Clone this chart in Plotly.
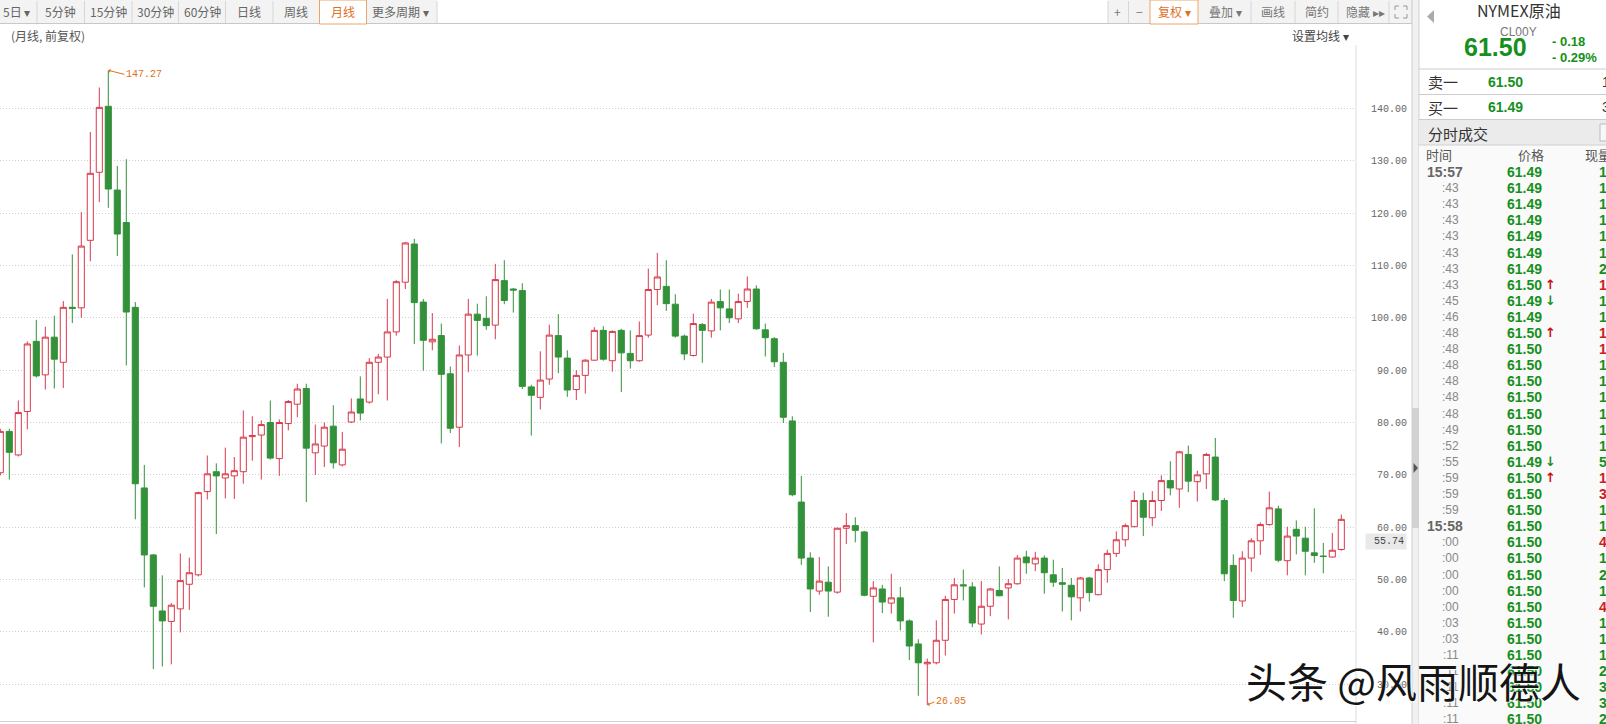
import plotly.graph_objects as go

# ---------------- data (monthly candles, CL00Y) ----------------
opens = [70.4, 78.3, 73.8, 82.1, 95.5, 89.1, 96.3, 91.5, 102.0, 101.9,
         114.8, 127.8, 140.4, 124.4, 118.2, 102.0, 67.5, 54.7, 44.0, 42.0,
         44.4, 49.1, 50.9, 66.8, 70.6, 69.4, 69.8, 70.6, 77.3, 77.6,
         80.0, 73.1, 79.8, 83.5, 86.5, 74.2, 75.5, 79.3, 71.9, 80.1,
         84.5, 83.9, 91.5, 92.5, 97.3, 106.8, 114.1, 103.0, 95.4, 96.6,
         89.3, 79.1, 92.9, 100.7, 99.9, 98.6, 107.1, 105.5, 105.2, 86.8,
         84.8, 88.3, 96.6, 92.3, 86.3, 89.0, 91.9, 97.6, 91.8, 97.6,
         93.2, 91.8, 96.7, 105.4, 106.0, 102.6, 96.5, 92.8, 98.7, 97.5,
         103.1, 101.7, 99.8, 103.1, 105.5, 97.7, 96.0, 91.5, 80.3, 64.8,
         54.1, 47.8, 49.5, 47.6, 59.8, 60.3, 59.1, 46.8, 48.2, 45.5,
         46.5, 42.1, 37.7, 33.9, 34.1, 38.4, 46.2, 49.0, 48.6, 41.5,
         44.9, 47.9, 48.4, 49.2, 54.3, 53.0, 54.1, 50.9, 49.4, 48.9,
         46.5, 50.3, 47.1, 51.9, 55.0, 57.6, 60.1, 65.1, 61.8, 65.1,
         68.9, 67.3, 73.9, 68.7, 70.2, 73.4, 65.1, 52.7, 45.9, 54.1,
         57.4, 60.5, 63.5, 53.6, 59.6, 57.9, 55.1, 54.5, 54.3, 55.74]
highs = [78.8, 78.8, 84.2, 95.5, 99.6, 98.3, 100.4, 103.2, 112.1, 120.2,
         135.5, 144.0, 147.27, 129.0, 130.3, 103.0, 71.9, 54.9, 50.8, 45.5,
         55.0, 54.2, 66.8, 73.7, 72.2, 75.2, 73.4, 82.3, 81.2, 80.4,
         84.2, 80.6, 84.3, 87.4, 87.4, 79.6, 80.0, 83.3, 78.2, 84.6,
         88.8, 92.3, 93.1, 103.6, 107.2, 114.5, 115.1, 103.6, 100.9, 98.9,
         90.7, 94.7, 103.6, 102.7, 104.1, 110.3, 111.0, 105.7, 106.6, 87.2,
         93.6, 98.7, 100.7, 93.8, 90.0, 92.1, 98.2, 98.4, 97.6, 97.9,
         97.6, 99.3, 109.4, 112.4, 111.0, 104.5, 96.8, 100.8, 99.0, 103.6,
         105.4, 105.4, 104.6, 107.9, 106.2, 98.9, 96.3, 93.3, 81.2, 69.8,
         55.2, 54.3, 52.5, 59.9, 62.7, 61.9, 59.3, 49.7, 49.0, 51.1,
         48.6, 42.4, 38.6, 34.9, 42.2, 46.9, 50.3, 51.9, 49.5, 49.7,
         48.4, 52.5, 50.1, 54.7, 55.5, 55.3, 54.6, 53.8, 52.2, 50.3,
         50.5, 50.5, 52.9, 55.7, 59.2, 60.7, 66.9, 66.6, 66.9, 69.9,
         72.6, 74.6, 75.6, 70.8, 74.2, 77.05, 65.6, 54.8, 55.4, 57.9,
         60.9, 66.8, 64.1, 60.1, 61.3, 60.1, 63.6, 57.0, 58.9, 62.4]
lows = [69.9, 69.1, 73.5, 78.7, 88.6, 86.3, 86.5, 86.6, 99.0, 100.0,
        110.8, 122.1, 121.0, 111.8, 90.9, 61.5, 48.5, 32.9, 33.4, 33.8,
        39.9, 44.2, 50.6, 65.3, 58.7, 65.5, 65.4, 68.3, 72.7, 69.1,
        72.9, 69.8, 78.5, 81.0, 64.8, 70.0, 71.5, 71.2, 71.6, 79.9,
        80.4, 83.6, 85.4, 84.2, 96.6, 105.5, 95.0, 89.9, 93.8, 76.0,
        78.0, 75.3, 89.6, 92.8, 97.7, 95.9, 102.6, 101.0, 86.4, 77.5,
        82.5, 87.2, 89.4, 84.9, 84.3, 85.5, 91.8, 91.8, 89.7, 85.8,
        90.3, 91.6, 96.2, 102.4, 101.3, 96.2, 91.9, 92.6, 91.4, 96.2,
        97.6, 99.0, 99.0, 101.9, 97.7, 92.6, 90.6, 79.9, 65.9, 52.8,
        43.8, 47.1, 42.9, 47.3, 56.8, 57.1, 46.8, 38.0, 43.6, 43.5,
        40.3, 34.6, 27.8, 26.05, 33.8, 35.5, 43.5, 46.0, 40.9, 39.5,
        43.0, 46.8, 42.4, 49.0, 51.1, 51.6, 47.3, 48.6, 43.9, 42.2,
        43.9, 45.8, 47.0, 49.4, 54.3, 56.3, 60.0, 58.3, 60.2, 63.1,
        66.1, 63.7, 66.7, 64.9, 67.3, 65.0, 49.7, 42.7, 44.8, 51.5,
        54.7, 60.3, 53.3, 50.8, 54.8, 50.8, 53.2, 51.2, 54.2, 55.5]
closes = [78.3, 74.3, 81.9, 95.0, 88.9, 96.3, 92.1, 102.0, 101.8, 113.7,
          127.6, 140.2, 124.6, 116.0, 101.1, 68.3, 54.7, 44.9, 42.1, 45.1,
          49.8, 51.3, 66.6, 70.2, 69.8, 70.2, 70.8, 77.2, 77.5, 79.6,
          73.2, 80.0, 84.0, 86.4, 75.1, 75.9, 79.1, 72.3, 74.9, 82.0,
          81.8, 91.5, 92.5, 97.3, 106.9, 114.3, 102.9, 95.7, 95.9, 89.2,
          78.9, 92.9, 100.7, 99.5, 98.5, 107.3, 103.3, 105.3, 86.9, 85.2,
          88.1, 96.7, 92.5, 86.2, 89.0, 91.9, 97.6, 92.1, 97.4, 93.3,
          91.8, 96.6, 105.4, 107.8, 102.7, 96.5, 93.1, 98.9, 97.6, 103.0,
          101.9, 100.0, 103.1, 105.5, 97.9, 96.2, 91.6, 81.0, 66.2, 54.1,
          48.2, 49.7, 47.8, 59.8, 60.3, 59.4, 47.0, 48.4, 45.7, 46.5,
          42.1, 37.3, 34.1, 34.2, 38.4, 46.2, 49.0, 48.8, 41.7, 44.9,
          48.2, 46.9, 49.2, 54.1, 53.2, 54.1, 51.3, 49.5, 49.1, 46.7,
          50.3, 47.5, 51.9, 55.0, 57.6, 60.3, 65.1, 61.9, 65.1, 68.9,
          67.5, 74.4, 68.8, 70.0, 73.9, 65.2, 51.1, 46.0, 54.1, 57.4,
          60.5, 63.7, 53.7, 58.3, 58.3, 55.4, 54.6, 54.4, 55.6, 61.5]

y_ticks = [30, 40, 50, 60, 70, 80, 90, 100, 110, 120, 130, 140]
y_tick_text = ["\u00a030.00", "\u00a040.00", "\u00a050.00", "\u00a060.00", "\u00a070.00",
               "\u00a080.00", "\u00a090.00", "100.00", "110.00", "120.00", "130.00", "140.00"]

peak_index, peak_value = 12, 147.27
low_index, low_value = 103, 26.05
marker_value = 55.74

tab_labels = ["5日 ▾", "5分钟", "15分钟", "30分钟", "60分钟", "日线", "周线", "月线", "更多周期 ▾"]
tool_labels = ["+", "−", "复权 ▾", "叠加 ▾", "画线", "简约", "隐藏 ▸▸"]

quote_name = "NYMEX原油"
quote_code = "CL00Y"
quote_last = "61.50"
quote_chg = "- 0.18"
quote_pct = "- 0.29%"
ask_price, ask_vol = "61.50", "1"
bid_price, bid_vol = "61.49", "3"

row_times = ["15:57", ":43", ":43", ":43", ":43", ":43", ":43", ":43", ":45", ":46",
             ":48", ":48", ":48", ":48", ":48", ":48", ":49", ":52", ":55", ":59",
             ":59", ":59", "15:58", ":00", ":00", ":00", ":00", ":00", ":03", ":03",
             ":11", ":11", ":11", ":11", ":11"]
row_prices = ["61.49", "61.49", "61.49", "61.49", "61.49", "61.49", "61.49", "61.50", "61.49", "61.49",
              "61.50", "61.50", "61.50", "61.50", "61.50", "61.50", "61.50", "61.50", "61.49", "61.50",
              "61.50", "61.50", "61.50", "61.50", "61.50", "61.50", "61.50", "61.50", "61.50", "61.50",
              "61.50", "61.50", "61.50", "61.50", "61.50"]
row_marks = ["", "", "", "", "", "", "", "↑", "↓", "",
             "↑", "", "", "", "", "", "", "", "↓", "↑",
             "", "", "", "", "", "", "", "", "", "",
             "", "", "", "", ""]
row_vols = ["1", "1", "1", "1", "1", "1", "2", "1", "1", "1",
            "1", "1", "1", "1", "1", "1", "1", "1", "5", "1",
            "3", "1", "1", "4", "1", "2", "1", "4", "1", "1",
            "1", "2", "3", "3", "2"]
row_vol_red = [0, 0, 0, 0, 0, 0, 0, 1, 0, 0,
               1, 1, 0, 0, 0, 0, 0, 0, 0, 1,
               1, 0, 0, 1, 0, 0, 0, 1, 0, 0,
               0, 0, 0, 0, 0]

# ---------------- layout helpers ----------------
W, H = 1606, 724
L, R, T, B = 0, 1356, 60, 722
STEP = 9.0
X0 = 0.3
PX_PER_UNIT = 5.235
Y80 = 422.5


def px(x):
    return (x - L) / (R - L)


def py(y):
    return (B - y) / (B - T)


RED = "#d8394a"
GREEN = "#33913a"
QGREEN = "#16901c"
ORANGE = "#e0701c"
CJK = "Noto Sans CJK SC"
NUM = "Liberation Sans"
MONO = "Liberation Mono"

xs = list(range(len(opens)))

fig = go.Figure()
fig.add_trace(go.Candlestick(
    x=xs, open=opens, high=highs, low=lows, close=closes,
    increasing=dict(line=dict(color=RED, width=1), fillcolor="white"),
    decreasing=dict(line=dict(color=GREEN, width=1), fillcolor=GREEN),
    whiskerwidth=0, hoverinfo="skip", showlegend=False))

y_top = 80 + (Y80 - T) / PX_PER_UNIT
y_bot = 80 - (B - Y80) / PX_PER_UNIT

shapes = []
ann = []


def rect(x0, y0, x1, y1, fill=None, line=None, lw=1):
    shapes.append(dict(type="rect", xref="paper", yref="paper",
                       x0=px(x0), x1=px(x1), y0=py(y1), y1=py(y0),
                       fillcolor=fill if fill else "rgba(0,0,0,0)",
                       line=dict(color=line if line else "rgba(0,0,0,0)", width=lw if line else 0),
                       layer="above"))


def hline(x0, x1, y, color="#cccccc", w=1):
    shapes.append(dict(type="line", xref="paper", yref="paper",
                       x0=px(x0), x1=px(x1), y0=py(y), y1=py(y),
                       line=dict(color=color, width=w), layer="above"))


def vline(x, y0, y1, color="#cccccc", w=1):
    shapes.append(dict(type="line", xref="paper", yref="paper",
                       x0=px(x), x1=px(x), y0=py(y0), y1=py(y1),
                       line=dict(color=color, width=w), layer="above"))


def path(d_pts, fill):
    d = "M " + " L ".join(f"{px(a)},{py(b)}" for a, b in d_pts) + " Z"
    shapes.append(dict(type="path", xref="paper", yref="paper", path=d,
                       fillcolor=fill, line=dict(width=0), layer="above"))


def txt(x, y, s, size=12, color="#333", anchor="left", family=CJK, bold=False, **kw):
    if bold:
        s = "<b>" + s + "</b>"
    ann.append(dict(x=px(x), y=py(y), xref="paper", yref="paper", text=s,
                    showarrow=False, xanchor=anchor, yanchor="middle",
                    font=dict(size=size, color=color, family=family), **kw))


# ---------------- top toolbar ----------------
rect(0, 0, 437, 23, fill="#f3f3f3")
for sx in [37, 84.5, 132, 178.5, 225.5, 273, 437]:
    vline(sx, 1, 23, color="#d6d6d6")
hline(0, 1412, 23.5, color="#c8c8c8")
rect(319.5, 0, 366.5, 24, fill="white", line="#eda46a")
tab_pos = [(1, "left"), (60.5, "center"), (108, "center"), (155, "center"), (202, "center"),
           (249, "center"), (296, "center"), (343, "center"), (401, "center")]
for (tx, anc), lab in zip(tab_pos, tab_labels):
    col = ORANGE if lab == "月线" else "#666"
    txt(tx, 12, lab, size=12, color=col, anchor=anc)

rect(1108, 0, 1412, 23, fill="#f3f3f3")
for sx in [1108, 1128.5, 1251, 1295, 1338, 1389, 1412]:
    vline(sx, 1, 23, color="#d6d6d6")
rect(1150, 0, 1198, 24, fill="white", line="#eda46a")
tool_pos = [1117, 1139, 1174, 1225, 1273, 1317, 1365]
for tx, lab in zip(tool_pos, tool_labels):
    col = ORANGE if lab.startswith("复权") else "#777"
    txt(tx, 12, lab, size=12, color=col, anchor="center")
# expand icon (four corners)
for (cx, cy, dx, dy) in [(1395, 6, 1, 1), (1407, 6, -1, 1), (1395, 18, 1, -1), (1407, 18, -1, -1)]:
    shapes.append(dict(type="line", xref="paper", yref="paper", x0=px(cx), y0=py(cy),
                       x1=px(cx + 4 * dx), y1=py(cy), line=dict(color="#999", width=1), layer="above"))
    shapes.append(dict(type="line", xref="paper", yref="paper", x0=px(cx), y0=py(cy),
                       x1=px(cx), y1=py(cy + 4 * dy), line=dict(color="#999", width=1), layer="above"))

txt(9, 35.5, "(月线, 前复权)", size=12, color="#555")
txt(1290, 35.5, "设置均线 ▾", size=12, color="#444")

# chart frame lines
vline(1356, 45, 724, color="#dddddd")
hline(0, 1356, 721.5, color="#d0d0d0")

# ---------------- chart annotations ----------------
ann.append(dict(x=peak_index, y=peak_value, xref="x", yref="y", text=f"{peak_value:.2f}",
                showarrow=True, arrowhead=1, arrowsize=0.7, arrowwidth=1, arrowcolor=ORANGE,
                ax=16, ay=4, xanchor="left", yanchor="middle",
                font=dict(family=MONO, size=10, color=ORANGE)))
ann.append(dict(x=low_index, y=low_value, xref="x", yref="y", text=f"{low_value:.2f}",
                showarrow=True, arrowhead=1, arrowsize=0.7, arrowwidth=1, arrowcolor=ORANGE,
                ax=7, ay=-3, xanchor="left", yanchor="middle",
                font=dict(family=MONO, size=10, color=ORANGE)))
ann.append(dict(x=px(1407), y=marker_value, xref="paper", yref="y",
                text="\u00a0" + f"{marker_value:.2f}", showarrow=False,
                xanchor="right", yanchor="bottom", bgcolor="#e9e9e9", borderpad=2,
                font=dict(family=MONO, size=10, color="#444")))

# ---------------- right quote panel ----------------
rect(1412, 0, 1419, 724, fill="#f1f1f1")
vline(1412, 0, 724, color="#cfcfcf")
vline(1419, 0, 724, color="#cfcfcf")
rect(1412, 408, 1419, 528, fill="#d2d2d2")
path([(1413.5, 463), (1418, 468), (1413.5, 473)], "#555")
path([(1434, 10), (1427, 16.5), (1434, 23)], "#aaaaaa")

rect(1419, 145, 1606, 724, fill="#fafafa")
txt(1519, 10, quote_name, size=16, color="#333", anchor="center")
txt(1518, 32, quote_code, size=12, color="#777", anchor="center", family=NUM)
txt(1495, 47, quote_last, size=25, color=QGREEN, anchor="center", family=NUM, bold=True)
txt(1550, 42, quote_chg, size=13, color=QGREEN, family=NUM, bold=True)
txt(1550, 57, quote_pct, size=13, color=QGREEN, family=NUM, bold=True)
hline(1419, 1606, 69)
txt(1426, 82, "卖一", size=15, color="#333")
txt(1486, 82, ask_price, size=14, color=QGREEN, family=NUM, bold=True)
txt(1600, 82, ask_vol, size=14, color="#333", family=NUM)
hline(1419, 1606, 94.5)
txt(1426, 107, "买一", size=15, color="#333")
txt(1486, 107, bid_price, size=14, color=QGREEN, family=NUM, bold=True)
txt(1600, 107, bid_vol, size=14, color="#333", family=NUM)
hline(1419, 1606, 119.5)
rect(1419, 120, 1606, 145, fill="#ebebeb")
txt(1426, 133, "分时成交", size=15, color="#333")
rect(1600, 124, 1612, 141, fill="#f7f7f7", line="#bbbbbb")
hline(1419, 1606, 145, color="#d0d0d0")
txt(1424, 154, "时间", size=13, color="#555")
txt(1531, 154, "价格", size=13, color="#555", anchor="center")
txt(1583, 154, "现量", size=13, color="#555")

for k, (t, p, m, v, vr) in enumerate(zip(row_times, row_prices, row_marks, row_vols, row_vol_red)):
    ry = 172 + 16.1 * k
    if len(t) > 3:
        txt(1425, ry, t, size=14, color="#666", family=NUM, bold=True)
    else:
        txt(1461, ry, t, size=12, color="#888", family=NUM, anchor="right")
    txt(1544, ry, p, size=14, color=QGREEN, family=NUM, bold=True, anchor="right")
    if m:
        txt(1543, ry, m, size=13, color=("#cc1010" if m == "↑" else QGREEN),
            family="DejaVu Sans", bold=True)
    txt(1597, ry, v, size=14, color=("#cc2020" if vr else QGREEN), family=NUM, bold=True)

# watermark
ann.append(dict(x=px(1583), y=py(680), xref="paper", yref="paper", text="头条 @风雨顺德人",
                showarrow=False, xanchor="right", yanchor="middle",
                font=dict(family=CJK, size=41, color="#151515", shadow="1px 1px 1px #ffffff")))

fig.update_layout(
    width=W, height=H,
    margin=dict(l=L, r=W - R, t=T, b=H - B, pad=0, autoexpand=False),
    paper_bgcolor="white", plot_bgcolor="white",
    boxgap=0.25, boxgroupgap=0.1,
    showlegend=False,
    xaxis=dict(range=[-X0 / STEP, (R - X0) / STEP], showgrid=False, zeroline=False,
               showticklabels=False, ticks="", showline=False,
               rangeslider=dict(visible=False), fixedrange=True),
    yaxis=dict(side="right", range=[y_bot, y_top], tickvals=y_ticks, ticktext=y_tick_text,
               showgrid=True, gridcolor="#cfcfcf", griddash="1px,2px", gridwidth=1,
               zeroline=False, showline=False, ticks="outside", ticklen=12,
               tickcolor="rgba(0,0,0,0)", tickfont=dict(family=MONO, size=10, color="#666"),
               fixedrange=True),
    font=dict(family=CJK),
    shapes=shapes,
    annotations=ann,
)

fig.write_html("out.html", config={"displayModeBar": False},
               post_script="document.body.style.margin='0px';")
